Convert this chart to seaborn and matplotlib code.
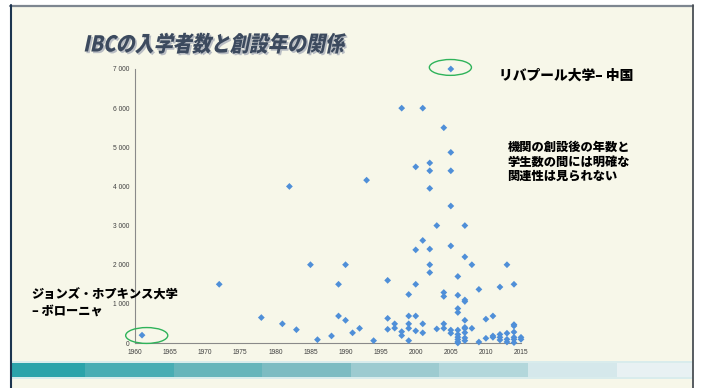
import matplotlib
matplotlib.use("Agg")
import matplotlib.pyplot as plt
import seaborn as sns
import pandas as pd
from matplotlib.patches import Ellipse, Rectangle
from matplotlib.lines import Line2D
from matplotlib.patheffects import AbstractPathEffect
from matplotlib.transforms import Affine2D
from matplotlib.ticker import FuncFormatter

# Founding year of each IBC and its enrolment
founded = [
    1961, 1972, 1978, 1981, 1982, 1983, 1985, 1986, 1988, 1989, 1989,
    1990, 1990, 1991, 1992, 1993, 1994, 1996, 1996, 1996, 1997, 1997,
    1998, 1998, 1998, 1999, 1999, 1999, 1999, 1999,
    2000, 2000, 2000, 2000, 2000, 2001, 2001, 2001, 2001,
    2002, 2002, 2002, 2002, 2002, 2002, 2003, 2003,
    2004, 2004, 2004, 2004, 2004,
    2005, 2005, 2005, 2005, 2005, 2005, 2005,
    2006, 2006, 2006, 2006, 2006, 2006, 2006, 2006, 2006, 2006,
    2007, 2007, 2007, 2007, 2007, 2007, 2007, 2007, 2007, 2007,
    2008, 2008, 2009, 2009, 2010, 2010, 2011, 2011, 2011,
    2012, 2012, 2012, 2012, 2013, 2013, 2013, 2013,
    2014, 2014, 2014, 2014, 2014, 2014, 2014, 2015, 2015,
]
students = [
    200, 1500, 650, 490, 4000, 340, 2000, 85, 180, 1500, 690,
    2000, 580, 260, 375, 4160, 60, 1600, 630, 350, 490, 380,
    6000, 290, 190, 1240, 690, 490, 375, 60,
    4500, 2380, 1500, 690, 310, 6000, 2620, 490, 260,
    4600, 4400, 3950, 2400, 2000, 1800, 3000, 360,
    5500, 1290, 1190, 490, 375,
    7000, 4870, 4400, 3500, 2480, 330, 250,
    1700, 1220, 880, 780, 330, 220, 150, 90, 30, 0,
    3000, 2200, 1100, 1060, 580, 400, 370, 265, 130, 60,
    2000, 375, 1370, 25, 610, 120, 690, 180, 145,
    1430, 220, 145, 77, 2000, 250, 94, 26,
    1500, 470, 435, 280, 145, 94, 10, 145, 94,
]

x_ticks = [1960, 1965, 1970, 1975, 1980, 1985, 1990, 1995, 2000, 2005, 2010, 2015]
y_ticks = [0, 1000, 2000, 3000, 4000, 5000, 6000, 7000]

title_text = "IBCの入学者数と創設年の関係"
note_liverpool = "リバプール大学– 中国"
note_hopkins = "ジョンズ・ホプキンス大学\n– ボローニャ"
note_summary = "機関の創設後の年数と\n学生数の間には明確な\n関連性は見られない"

# Circled campuses: (year, students)
highlight_oldest = (1961, 200)
highlight_largest = (2005, 7000)

band_colors = ["#2ba3aa", "#48adb4", "#66b5bb", "#7dbcc2",
               "#9dcbd0", "#b3d7db", "#d5e8eb", "#e8f1f3"]

df = pd.DataFrame({"founded": founded, "students": students})

sns.set_style("white")
plt.rcParams["font.family"] = ["Noto Sans CJK JP", "DejaVu Sans"]

W, H = 701, 388
fig = plt.figure(figsize=(W / 100, H / 100), dpi=100, facecolor="white")


def fx(px):
    return px / W


def fy(py):
    return 1 - py / H


# Slide panel with its borders
cream = "#f7f7e9"
fig.patches.append(Rectangle((fx(10), 0), fx(683), fy(5), transform=fig.transFigure,
                             facecolor=cream, edgecolor="none", zorder=-10))
fig.add_artist(Line2D([fx(10), fx(693)], [fy(5.5), fy(5.5)], transform=fig.transFigure,
                      color="#7d8690", lw=1.6, zorder=-5))
fig.add_artist(Line2D([fx(10.5), fx(10.5)], [fy(5), 0], transform=fig.transFigure,
                      color="#1d3550", lw=1.5, zorder=-5))
fig.add_artist(Line2D([fx(692.5), fx(692.5)], [fy(5), 0], transform=fig.transFigure,
                      color="#4a4f55", lw=1.3, zorder=-5))

# Decorative colour band along the bottom
seg_w = 88.6
x0 = 11 - (seg_w - 74)
fig.patches.append(Rectangle((fx(11), fy(378.5)), fx(681), 17.5 / H, transform=fig.transFigure,
                             facecolor="#d9ecec", edgecolor="none", zorder=-9))
for i, c in enumerate(band_colors):
    left = max(11, x0 + i * seg_w)
    right = min(692, x0 + (i + 1) * seg_w)
    fig.patches.append(Rectangle((fx(left), fy(377)), fx(right - left), 14.3 / H,
                                 transform=fig.transFigure, facecolor=c,
                                 edgecolor="none", zorder=-8))


class Oblique(AbstractPathEffect):
    """Draws text slanted (and optionally stretched) around its baseline."""

    def __init__(self, angle=12, offset=(0, 0), color=None, stretch=1.0):
        super().__init__(offset)
        self.angle = angle
        self.color = color
        self.stretch = stretch

    def draw_path(self, renderer, gc, tpath, affine, rgbFace=None):
        m = affine.get_matrix()
        x0_, y0 = m[0, 2], m[1, 2]
        shear = (Affine2D().translate(-x0_, -y0)
                 .scale(1.0, self.stretch)
                 .skew_deg(self.angle, 0)
                 .translate(x0_, y0))
        gc0 = renderer.new_gc()
        gc0.copy_properties(gc)
        face = matplotlib.colors.to_rgba(self.color) if self.color is not None else rgbFace
        renderer.draw_path(gc0, tpath, affine + shear + self._offset_transform(renderer), face)
        gc0.restore()


fig.text(fx(83), fy(51.5), title_text, fontsize=13.7, fontweight="heavy", color="#3c4a5e",
         ha="left", va="baseline",
         path_effects=[Oblique(12, (1.2, -1.2), "#b9bdc3", 1.15), Oblique(12, stretch=1.15)])

# Scatter axes
ax = fig.add_axes([fx(135), fy(343), fx(521 - 135), (343 - 69) / H])
ax.set_zorder(5)
ax.set_facecolor("none")
sns.scatterplot(data=df, x="founded", y="students", marker="D", s=12,
                color="#4f8fd8", edgecolor="none", linewidth=0, ax=ax,
                clip_on=False, zorder=3)
ax.set_xlim(1960, 2015)
ax.set_ylim(0, 7000)
ax.set_xticks(x_ticks)
ax.set_yticks(y_ticks)
ax.yaxis.set_major_formatter(FuncFormatter(lambda v, p: f"{int(v):,}".replace(",", " ")))
ax.set_xlabel("")
ax.set_ylabel("")
for side in ("top", "right"):
    ax.spines[side].set_visible(False)
for side in ("left", "bottom"):
    ax.spines[side].set_color("#8a8a8a")
    ax.spines[side].set_linewidth(0.8)
ax.tick_params(axis="both", which="major", direction="out", length=2.5, width=0.7,
               color="#8a8a8a", labelsize=4.8, labelcolor="#404040", pad=1.5)
for lab in ax.get_xticklabels() + ax.get_yticklabels():
    lab.set_fontfamily(["Liberation Sans", "DejaVu Sans"])
ax.grid(False)

# Rings around the oldest and the largest campus
for (yr, val), (cx, cy) in ((highlight_oldest, (1961.67, 192)),
                            (highlight_largest, (2004.94, 7040))):
    ax.add_patch(Ellipse((cx, cy), 6.0, 405, facecolor="none", edgecolor="#2fb35a",
                         linewidth=1.0, clip_on=False, zorder=4))

# Annotations
fig.text(fx(499), fy(75.5), note_liverpool, fontsize=9.9, fontweight="heavy",
         color="black", ha="left", va="center", zorder=6)
fig.text(fx(507.5), fy(161.5), note_summary, fontsize=8.8, fontweight="heavy",
         color="black", ha="left", va="center", linespacing=1.25, zorder=6)
fig.text(fx(31.5), fy(302.5), note_hopkins, fontsize=8.8, fontweight="heavy",
         color="black", ha="left", va="center", linespacing=1.45, zorder=6)

fig.savefig("out.png", dpi=100, facecolor="white")
